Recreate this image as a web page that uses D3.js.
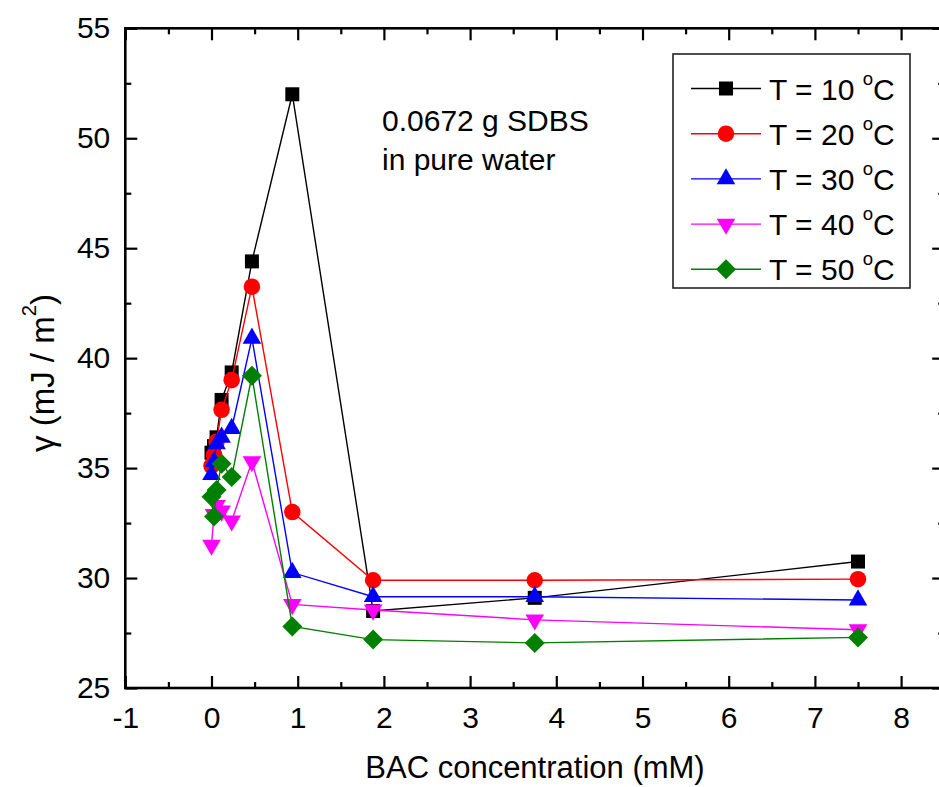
<!DOCTYPE html>
<html>
<head>
<meta charset="utf-8">
<script src="https://cdn.jsdelivr.net/npm/d3@7"></script>
<style>
  html, body { margin: 0; padding: 0; background: #fff; }
  svg { display: block; font-family: Arial, "Liberation Sans", sans-serif; }
</style>
</head>
<body>
<svg id="chart" width="939" height="787"></svg>
<script>
// ---- data ----
const concentration = [0, 0.0293, 0.0586, 0.117, 0.234, 0.469, 0.9375, 1.875, 3.75, 7.5];
const gammaT10 = [35.7, 36.0, 36.4, 38.1, 39.35, 44.4, 52.0, 28.5, 29.1, 30.75];
const gammaT20 = [35.1, 35.6, 36.2, 37.65, 39.0, 43.25, 33.0, 29.9, 29.9, 29.95];
const gammaT30 = [34.7, 35.3, 36.1, 36.4, 36.8, 40.9, 30.25, 29.15, 29.15, 29.0];
const gammaT40 = [31.5, 32.9, 33.3, 33.05, 32.6, 35.3, 28.8, 28.55, 28.1, 27.65];
const gammaT50 = [33.7, 32.8, 34.0, 35.2, 34.6, 39.2, 27.8, 27.2, 27.05, 27.3];
const seriesNames = ["T = 10", "T = 20", "T = 30", "T = 40", "T = 50"];
const seriesColors = ["#000000", "#ff0000", "#0000ff", "#ff00ff", "#008000"];
const seriesShapes = ["square", "circle", "triangle", "triangleDown", "diamond"];
const xTicks = [-1, 0, 1, 2, 3, 4, 5, 6, 7, 8];
const yTicks = [25, 30, 35, 40, 45, 50, 55];
const annotation = ["0.0672 g SDBS", "in pure water"];

const seriesValues = [gammaT10, gammaT20, gammaT30, gammaT40, gammaT50];

// ---- layout ----
const svg = d3.select("#chart");
const W = 939, H = 787;
const pL = 125.3, pR = 944.2, pT = 28.3, pB = 688;
const FS = 30;

svg.append("rect").attr("width", W).attr("height", H).attr("fill", "#fff");

const x = d3.scaleLinear().domain([-1, 8.5]).range([pL, pR]);
const y = d3.scaleLinear().domain([25, 55]).range([pB, pT]);

const minorX = d3.range(-0.5, 8.6, 1);
const minorY = d3.range(27.5, 55, 5);
const plainFmt = d => String(d);

function styleAxis(g) {
  g.select(".domain").remove();
  g.selectAll(".tick line").attr("stroke", "#000").attr("stroke-width", 2.2);
  g.selectAll("text").attr("font-size", FS).attr("fill", "#000")
    .attr("font-family", "Arial, 'Liberation Sans', sans-serif");
}

// bottom
svg.append("g").attr("transform", `translate(0,${pB})`)
  .call(d3.axisBottom(x).tickValues(xTicks).tickSize(-12).tickPadding(19).tickFormat(plainFmt))
  .call(styleAxis);
svg.append("g").attr("transform", `translate(0,${pB})`)
  .call(d3.axisBottom(x).tickValues(minorX).tickSize(-6).tickFormat(""))
  .call(styleAxis);
// top
svg.append("g").attr("transform", `translate(0,${pT})`)
  .call(d3.axisTop(x).tickValues(xTicks).tickSize(-12).tickFormat(""))
  .call(styleAxis);
svg.append("g").attr("transform", `translate(0,${pT})`)
  .call(d3.axisTop(x).tickValues(minorX).tickSize(-6).tickFormat(""))
  .call(styleAxis);
// left
svg.append("g").attr("transform", `translate(${pL},0)`)
  .call(d3.axisLeft(y).tickValues(yTicks).tickSize(-12).tickPadding(15).tickFormat(plainFmt))
  .call(styleAxis);
svg.append("g").attr("transform", `translate(${pL},0)`)
  .call(d3.axisLeft(y).tickValues(minorY).tickSize(-6).tickFormat(""))
  .call(styleAxis);
// right
svg.append("g").attr("transform", `translate(${pR},0)`)
  .call(d3.axisRight(y).tickValues(yTicks).tickSize(-12).tickFormat(""))
  .call(styleAxis);
svg.append("g").attr("transform", `translate(${pR},0)`)
  .call(d3.axisRight(y).tickValues(minorY).tickSize(-6).tickFormat(""))
  .call(styleAxis);

// frame
svg.append("rect").attr("x", pL).attr("y", pT)
  .attr("width", pR - pL).attr("height", pB - pT)
  .attr("fill", "none").attr("stroke", "#000").attr("stroke-width", 2.6);

// axis titles
svg.append("text").attr("x", 535).attr("y", 778)
  .attr("text-anchor", "middle").attr("font-size", 31).text("BAC concentration (mM)");

const YFS = 33;
const yl = svg.append("text").attr("transform", "translate(54,373) rotate(-90)")
  .attr("text-anchor", "middle").attr("font-size", YFS);
yl.append("tspan").text("γ (mJ / m");
yl.append("tspan").attr("font-size", YFS * 0.62).attr("dy", -YFS * 0.55).text("2");
yl.append("tspan").attr("dy", YFS * 0.55).text(")");

// annotation
annotation.forEach((t, i) => {
  svg.append("text").attr("x", 382).attr("y", 131 + i * 39)
    .attr("font-size", FS).text(t);
});

// markers
function markerPath(shape) {
  switch (shape) {
    case "square": return d3.symbol(d3.symbolSquare, 196)();
    case "circle": return d3.symbol(d3.symbolCircle, 215)();
    case "triangle": return d3.symbol(d3.symbolTriangle, 150)();
    case "triangleDown": return d3.symbol(d3.symbolTriangle, 150)();
    case "diamond": return d3.symbol(d3.symbolSquare, 200)();
  }
}
function markerRot(shape) {
  if (shape === "triangleDown") return 180;
  if (shape === "diamond") return 45;
  return 0;
}

const line = d3.line().x(d => x(d[0])).y(d => y(d[1]));

seriesValues.forEach((vals, si) => {
  const pts = concentration.map((c, i) => [c, vals[i]]);
  const g = svg.append("g");
  g.append("path").datum(pts).attr("d", line)
    .attr("fill", "none").attr("stroke", seriesColors[si]).attr("stroke-width", 1.4);
  g.selectAll("path.m").data(pts).enter().append("path").attr("class", "m")
    .attr("d", markerPath(seriesShapes[si]))
    .attr("transform", d => `translate(${x(d[0])},${y(d[1])}) rotate(${markerRot(seriesShapes[si])})`)
    .attr("fill", seriesColors[si]);
});

// legend
const lg = svg.append("g");
lg.append("rect").attr("x", 673).attr("y", 54).attr("width", 237).attr("height", 234)
  .attr("fill", "#fff").attr("stroke", "#222").attr("stroke-width", 1.6);
seriesNames.forEach((name, i) => {
  const cy = 88.5 + i * 45.2;
  lg.append("line").attr("x1", 691).attr("x2", 761).attr("y1", cy).attr("y2", cy)
    .attr("stroke", seriesColors[i]).attr("stroke-width", 1.4);
  lg.append("path").attr("d", markerPath(seriesShapes[i]))
    .attr("transform", `translate(726,${cy}) rotate(${markerRot(seriesShapes[i])})`)
    .attr("fill", seriesColors[i]);
  const t = lg.append("text").attr("x", 769).attr("y", cy + 11).attr("font-size", FS);
  t.append("tspan").text(name + " ");
  t.append("tspan").attr("font-size", FS * 0.62).attr("dy", -FS * 0.5).text("o");
  t.append("tspan").attr("dy", FS * 0.5).text("C");
});
</script>
</body>
</html>
